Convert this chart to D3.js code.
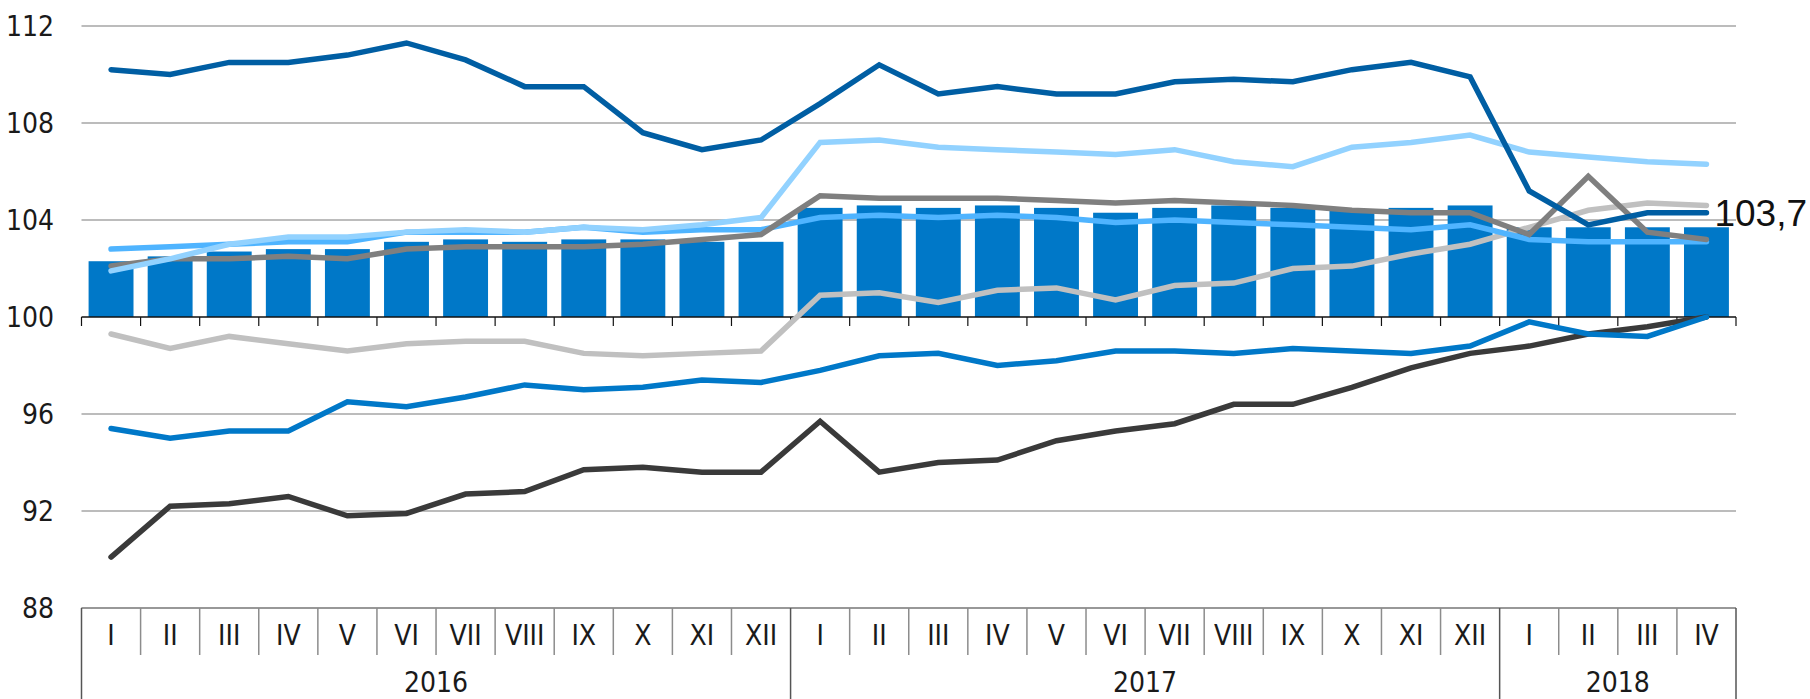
<!DOCTYPE html>
<html>
<head>
<meta charset="utf-8">
<script src="https://cdn.jsdelivr.net/npm/d3@7"></script>
<style>
  html, body { margin: 0; padding: 0; background: #fff; }
  svg { display: block; }
  .lbl { font-family: "Liberation Sans Narrow", "DejaVu Sans Condensed", sans-serif; font-size: 28px; fill: #1a1a1a; }
</style>
</head>
<body>
<svg id="chart"></svg>
<script>
// categories
const months = ["I","II","III","IV","V","VI","VII","VIII","IX","X","XI","XII",
                "I","II","III","IV","V","VI","VII","VIII","IX","X","XI","XII",
                "I","II","III","IV"];
const years = ["2016", "2017", "2018"];
const yearMonths = [12, 12, 4];
const yTicks = [88, 92, 96, 100, 104, 108, 112];

// bar series
const bars = [102.3, 102.5, 102.7, 102.8, 102.8, 103.1, 103.2, 103.1, 103.2, 103.2, 103.1, 103.1,
              104.5, 104.6, 104.5, 104.6, 104.5, 104.3, 104.5, 104.6, 104.5, 104.4, 104.5, 104.6,
              103.7, 103.7, 103.7, 103.7];

// line series
const navy = [110.2, 110.0, 110.5, 110.5, 110.8, 111.3, 110.6, 109.5, 109.5, 107.6, 106.9, 107.3,
              108.8, 110.4, 109.2, 109.5, 109.2, 109.2, 109.7, 109.8, 109.7, 110.2, 110.5, 109.9,
              105.2, 103.8, 104.3, 104.3];
const skyBlue = [101.9, 102.4, 103.0, 103.3, 103.3, 103.5, 103.6, 103.5, 103.7, 103.6, 103.8, 104.1,
                 107.2, 107.3, 107.0, 106.9, 106.8, 106.7, 106.9, 106.4, 106.2, 107.0, 107.2, 107.5,
                 106.8, 106.6, 106.4, 106.3];
const darkGrey = [102.1, 102.4, 102.4, 102.5, 102.4, 102.8, 102.9, 102.9, 102.9, 103.0, 103.2, 103.4,
                  105.0, 104.9, 104.9, 104.9, 104.8, 104.7, 104.8, 104.7, 104.6, 104.4, 104.3, 104.3,
                  103.4, 105.8, 103.5, 103.2];
const midBlue = [102.8, 102.9, 103.0, 103.1, 103.1, 103.5, 103.5, 103.5, 103.7, 103.5, 103.6, 103.6,
                 104.1, 104.2, 104.1, 104.2, 104.1, 103.9, 104.0, 103.9, 103.8, 103.7, 103.6, 103.8,
                 103.2, 103.1, 103.1, 103.1];
const lightGrey = [99.3, 98.7, 99.2, 98.9, 98.6, 98.9, 99.0, 99.0, 98.5, 98.4, 98.5, 98.6,
                   100.9, 101.0, 100.6, 101.1, 101.2, 100.7, 101.3, 101.4, 102.0, 102.1, 102.6, 103.0,
                   103.7, 104.4, 104.7, 104.6];
const blue = [95.4, 95.0, 95.3, 95.3, 96.5, 96.3, 96.7, 97.2, 97.0, 97.1, 97.4, 97.3,
              97.8, 98.4, 98.5, 98.0, 98.2, 98.6, 98.6, 98.5, 98.7, 98.6, 98.5, 98.8,
              99.8, 99.3, 99.2, 100.0];
const black = [90.1, 92.2, 92.3, 92.6, 91.8, 91.9, 92.7, 92.8, 93.7, 93.8, 93.6, 93.6,
               95.7, 93.6, 94.0, 94.1, 94.9, 95.3, 95.6, 96.4, 96.4, 97.1, 97.9, 98.5,
               98.8, 99.3, 99.6, 100.0];

const series = [
    { values: black, color: "#3a3a3a" },
    { values: blue, color: "#0078c8" },
    { values: lightGrey, color: "#c0c0c0" },
    { values: midBlue, color: "#4fb4ff" },
    { values: darkGrey, color: "#7f7f7f" },
    { values: skyBlue, color: "#92d2ff" },
    { values: navy, color: "#005ea3" },
];

const width = 1810, height = 699;
const plotLeft = 81.5, plotRight = 1736, plotTop = 26, plotBottom = 608;

const svg = d3.select("#chart").attr("width", width).attr("height", height);

const x = d3.scaleBand()
    .domain(d3.range(months.length))
    .range([plotLeft, plotRight])
    .paddingInner(0.24)
    .paddingOuter(0.12);

const y = d3.scaleLinear().domain([88, 112]).range([plotBottom, plotTop]);
const cx = i => x(i) + x.bandwidth() / 2;
const step = x.step();

// gridlines
svg.append("g")
    .selectAll("line")
    .data(yTicks.filter(t => t !== 100))
    .enter()
    .append("line")
    .attr("x1", plotLeft).attr("x2", plotRight)
    .attr("y1", d => y(d)).attr("y2", d => y(d))
    .attr("stroke", "#a6a6a6")
    .attr("stroke-width", 1.5);

// y labels
svg.append("g")
    .selectAll("text")
    .data(yTicks)
    .enter()
    .append("text")
    .attr("class", "lbl")
    .attr("x", 54)
    .attr("y", d => y(d))
    .attr("dy", "0.36em")
    .attr("text-anchor", "end")
    .text(d => d);

// bars
svg.append("g")
    .selectAll("rect")
    .data(bars)
    .enter()
    .append("rect")
    .attr("x", (d, i) => x(i))
    .attr("width", x.bandwidth())
    .attr("y", d => y(d))
    .attr("height", d => y(100) - y(d))
    .attr("fill", "#0078c8");

// axis at 100
const axis = svg.append("g");
axis.append("line")
    .attr("x1", plotLeft).attr("x2", plotRight)
    .attr("y1", y(100)).attr("y2", y(100))
    .attr("stroke", "#111").attr("stroke-width", 1.5);
axis.selectAll("line.tick")
    .data(d3.range(months.length + 1))
    .enter()
    .append("line")
    .attr("class", "tick")
    .attr("x1", i => plotLeft + i * step).attr("x2", i => plotLeft + i * step)
    .attr("y1", y(100)).attr("y2", y(100) + 9)
    .attr("stroke", "#111").attr("stroke-width", 1.2);

// lines
const line = d3.line()
    .x((d, i) => cx(i))
    .y(d => y(d));

svg.append("g")
    .selectAll("path")
    .data(series)
    .enter()
    .append("path")
    .attr("d", d => line(d.values))
    .attr("fill", "none")
    .attr("stroke", d => d.color)
    .attr("stroke-width", 5.5)
    .attr("stroke-linecap", "round")
    .attr("stroke-linejoin", "miter");

// end label
svg.append("text")
    .attr("x", cx(bars.length - 1) + 8)
    .attr("y", y(navy[navy.length - 1]))
    .attr("dy", "0.36em")
    .attr("font-family", "'Liberation Sans', Arial, sans-serif")
    .attr("font-size", 37)
    .attr("fill", "#111")
    .text(String(bars[bars.length - 1]).replace(".", ","));

// category table
const table = svg.append("g");
const rowMid = plotBottom + 47;
table.append("line")
    .attr("x1", plotLeft).attr("x2", plotRight)
    .attr("y1", plotBottom).attr("y2", plotBottom)
    .attr("stroke", "#8c8c8c").attr("stroke-width", 1.5);

let starts = [0];
yearMonths.forEach((n, k) => starts.push(starts[k] + n));

table.selectAll("line.div")
    .data(d3.range(months.length + 1))
    .enter()
    .append("line")
    .attr("class", "div")
    .attr("x1", i => plotLeft + i * step).attr("x2", i => plotLeft + i * step)
    .attr("y1", plotBottom)
    .attr("y2", i => starts.includes(i) ? height : rowMid)
    .attr("stroke", i => starts.includes(i) ? "#555" : "#8c8c8c")
    .attr("stroke-width", 1.5);

table.selectAll("text.month")
    .data(months)
    .enter()
    .append("text")
    .attr("class", "lbl month")
    .attr("x", (d, i) => cx(i))
    .attr("y", plotBottom + 27)
    .attr("dy", "0.36em")
    .attr("text-anchor", "middle")
    .text(d => d);

table.selectAll("text.year")
    .data(years)
    .enter()
    .append("text")
    .attr("class", "lbl year")
    .attr("x", (d, k) => plotLeft + (starts[k] + yearMonths[k] / 2) * step)
    .attr("y", plotBottom + 74)
    .attr("dy", "0.36em")
    .attr("text-anchor", "middle")
    .text(d => d);
</script>
</body>
</html>
